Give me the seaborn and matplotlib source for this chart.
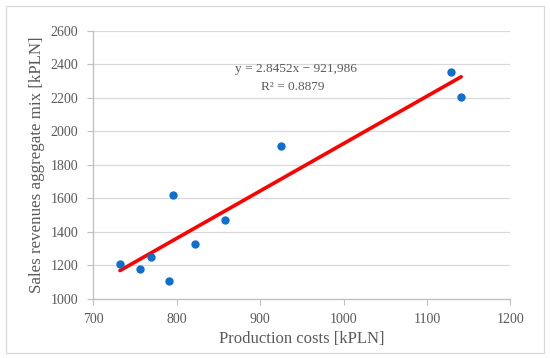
import seaborn as sns
import matplotlib.pyplot as plt
import pandas as pd
from matplotlib.patches import Rectangle

# data
costs = [732, 756, 769, 791, 795, 822, 858, 925, 1129, 1141]
revenues = [1209, 1179, 1251, 1106, 1619, 1327, 1472, 1913, 2353, 2204]
x_ticks = [700, 800, 900, 1000, 1100, 1200]
y_ticks = [1000, 1200, 1400, 1600, 1800, 2000, 2200, 2400, 2600]
equation = "y = 2.8452x \u2212 921,986"
r_squared = "R\u00b2 = 0.8879"

df = pd.DataFrame({"costs": costs, "revenues": revenues})

sns.set_theme(style="white")
plt.rcParams["font.family"] = ["Liberation Serif", "DejaVu Serif"]
grey = "#595959"

fig = plt.figure(figsize=(5.5, 3.58), dpi=100)
ax = fig.add_axes([0.1696, 0.1657, 0.7584, 0.7485])

sns.regplot(data=df, x="costs", y="revenues", ax=ax, ci=None, truncate=True,
            scatter_kws={"s": 36, "color": "#0e6fcf", "alpha": 1, "zorder": 3, "linewidths": 0},
            line_kws={"color": "#ff0000", "lw": 2.6, "zorder": 2})

ax.set_xlim(700, 1200)
ax.set_ylim(1000, 2600)
ax.set_xticks(x_ticks)
ax.set_yticks(y_ticks)
ax.yaxis.grid(True, color="#d9d9d9", lw=0.9)
ax.set_axisbelow(True)
ax.tick_params(axis="both", labelsize=10, colors=grey, length=4, width=0.8,
               direction="out", bottom=True, left=True, color="#bfbfbf")
ax.tick_params(axis="y", pad=7)
ax.tick_params(axis="x", pad=6)
for s in ["top", "right"]:
    ax.spines[s].set_visible(False)
for s in ["left", "bottom"]:
    ax.spines[s].set_color("#bfbfbf")
    ax.spines[s].set_linewidth(0.9)

ax.set_xlabel("Production costs [kPLN]", fontsize=12, color=grey, labelpad=4)
ax.set_ylabel("Sales revenues aggregate mix [kPLN]", fontsize=12.2, color=grey, labelpad=4)

ax.text(0.485, 0.857, equation, transform=ax.transAxes, ha="center", va="center",
        fontsize=9.6, color=grey)
ax.text(0.478, 0.79, r_squared, transform=ax.transAxes, ha="center", va="center",
        fontsize=9.6, color=grey)

fig.patches.append(Rectangle((6 / 550, 5 / 358), 538 / 550, 347 / 358,
                             transform=fig.transFigure, fill=False,
                             edgecolor="#d9d9d9", lw=0.9))

fig.savefig("out.png", dpi=100)
